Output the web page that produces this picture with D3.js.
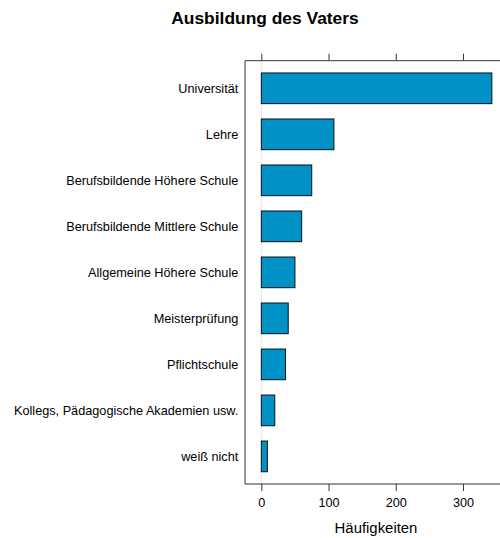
<!DOCTYPE html>
<html><head><meta charset="utf-8">
<script src="https://cdn.jsdelivr.net/npm/d3@7"></script>
<style>body{margin:0;background:#fff}svg{display:block}svg text{font-family:"Liberation Sans",Arial,Helvetica,sans-serif}</style>
</head><body><svg id="c" width="500" height="538"></svg>
<script>
const categories = ["Universität","Lehre","Berufsbildende Höhere Schule","Berufsbildende Mittlere Schule","Allgemeine Höhere Schule","Meisterprüfung","Pflichtschule","Kollegs, Pädagogische Akademien usw.","weiß nicht"];
const values = [343,108,75,60,50,40,36,20,9];
const xTicks = [0,100,200,300];
const title = "Ausbildung des Vaters";
const xLabel = "Häufigkeiten";

(function(){
const svg = d3.select("#c");
const pLeft = 245, pRight = 508, pTop = 60.7, pBottom = 484;
const x = d3.scaleLinear().domain([-24.3, 367]).range([pLeft, pRight]);
const y = d3.scaleLinear().domain([0.4, categories.length + 0.6]).range([pTop, pBottom]);
const barH = 0.667 * (y(1) - y(0));

svg.append("text").attr("x", 265).attr("y", 24.3).attr("text-anchor","middle")
  .attr("font-size", 17.4).attr("font-weight","bold").attr("fill","#000").text(title);

svg.append("line").attr("x1", x(0)).attr("x2", x(0)).attr("y1", pTop).attr("y2", pBottom)
  .attr("stroke","#e6e6e6").attr("stroke-width",1);

svg.append("g").selectAll("rect").data(values).join("rect")
  .attr("x", x(0)).attr("width", d => x(d) - x(0))
  .attr("y", (d,i) => y(i+1) - barH/2).attr("height", barH)
  .attr("fill","#0091c6").attr("stroke","#111").attr("stroke-width",1);

svg.append("path").attr("d", `M${pRight},${pTop}H${pLeft}V${pBottom}H${pRight}`)
  .attr("fill","none").attr("stroke","#333").attr("stroke-width",1);

const axB = d3.axisBottom(x).tickValues(xTicks).tickSize(7).tickSizeOuter(0);
const gB = svg.append("g").attr("transform",`translate(0,${pBottom})`).call(axB);
gB.select(".domain").remove();
gB.selectAll("text").attr("font-size",12.7).attr("fill","#000").attr("y", 23.3).attr("dy", null)
  .attr("font-family","Liberation Sans, Arial, sans-serif");
gB.selectAll("line").attr("stroke","#333");
const axT = d3.axisTop(x).tickValues(xTicks).tickSize(7).tickFormat("").tickSizeOuter(0);
const gT = svg.append("g").attr("transform",`translate(0,${pTop})`).call(axT);
gT.select(".domain").remove();
gT.selectAll("line").attr("stroke","#333");

svg.append("g").selectAll("text").data(categories).join("text")
  .attr("x", 238.3).attr("y", (d,i) => y(i+1) + 4.6)
  .attr("text-anchor","end").attr("font-size",12.7).attr("fill","#000").text(d => d);

svg.append("text").attr("x", (pLeft + pRight) / 2 - 0.5).attr("y", 532.7).attr("text-anchor","middle")
  .attr("font-size",14.9).attr("fill","#000").text(xLabel);
})();
</script></body></html>
